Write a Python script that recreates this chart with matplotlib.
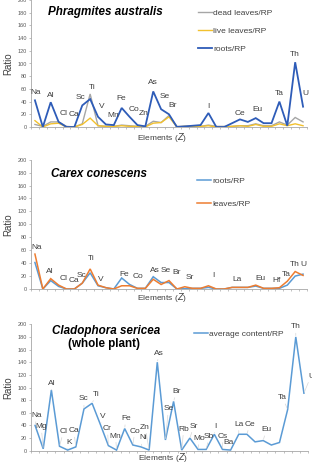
import numpy as np
import matplotlib
matplotlib.use('Agg')
import matplotlib.pyplot as plt

plt.rcParams['font.family'] = ['Liberation Sans', 'DejaVu Sans']

# ----------------------------------------
# data (ratio to reference plant, by element)
# ----------------------------------------
elements_pa = ['Na', 'Mg', 'Al', 'Cl', 'K', 'Ca', 'Sc', 'Ti', 'V', 'Cr', 'Mn', 'Fe', 'Co', 'Ni', 'Zn',
               'As', 'Se', 'Br', 'Rb', 'Sr', 'Mo', 'Sb', 'I', 'Cs', 'Ba', 'La', 'Ce', 'Sm', 'Eu',
               'Tb', 'Hf', 'Ta', 'Au', 'Th', 'U']
pa_dead = [4, 1, 8, 8, 1, 0, 5, 52, 2, 1, 1, 3, 2, 1, 1, 9, 7, 18, 1, 1, 1, 1, 3, 1, 1, 1, 2, 2, 5,
           2, 2, 8, 3, 15, 8]
pa_live = [10, 0, 5, 6, 0, 0, 4, 14, 2, 1, 1, 2, 1, 1, 0, 6, 7, 16, 0, 1, 1, 1, 2, 0, 0, 1, 2, 1, 4,
           1, 1, 5, 2, 5, 2]
pa_roots = [42, 0, 39, 8, 0, 0, 34, 44, 16, 4, 3, 30, 16, 3, 1, 56, 28, 20, 0, 1, 2, 3, 22, 0, 0, 6, 12,
            8, 14, 6, 6, 40, 2, 102, 32]

elements_cc = ['Na', 'Mg', 'Al', 'Cl', 'K', 'Ca', 'Sc', 'Ti', 'V', 'Cr', 'Mn', 'Fe', 'Co', 'Ni', 'Zn',
               'As', 'Se', 'Br', 'Rb', 'Sr', 'Mo', 'Sb', 'I', 'Cs', 'Ba', 'La', 'Ce', 'Sm', 'Eu',
               'Tb', 'Yb', 'Hf', 'Ta', 'Th', 'U']
cc_roots = [41, 0, 13, 4, 0, 0, 9, 25, 5, 2, 0, 17, 7, 1, 1, 19, 10, 10, 0, 0.5, 1, 1, 2.5, 0, 0, 2.5,
            2.5, 2.5, 4.5, 1, 1, 1, 6, 20, 23]
cc_leaves = [54, 0, 16, 6, 0, 0, 9, 31, 6, 2, 0, 5, 5, 1, 1, 15, 7, 13, 0, 3.5, 1, 1, 5, 0, 0, 2.5,
             2.5, 2.5, 6, 1, 1, 2, 12, 27, 21]

elements_cs = ['Na', 'Mg', 'Al', 'Cl', 'K', 'Ca', 'Sc', 'Ti', 'V', 'Cr', 'Mn', 'Fe', 'Co', 'Ni', 'Zn',
               'As', 'Se', 'Br', 'Rb', 'Sr', 'Mo', 'Sb', 'I', 'Cs', 'Ba', 'La', 'Ce', 'Sm', 'Eu',
               'Tb', 'Hf', 'Ta', 'Th', 'U']
cs_avg = [40, 3, 96, 7, 1, 6, 66, 75, 42, 8, 1, 35, 9, 6, 1, 140, 17, 78, 1, 20, 2, 2, 26, 2, 1, 26, 26,
          14, 16, 9, 13, 65, 180, 91]

# ----------------------------------------
# label placement (pixel offsets from the point)
# ----------------------------------------
lab_pa = {'Na': (1, 8), 'Al': (0, 7), 'Cl': (5, 8), 'Ca': (0, 13), 'Sc': (-2, 8), 'Ti': (2, 12),
          'V': (4, 10), 'Mn': (-1, 10), 'Fe': (0, 9), 'Co': (4, 7), 'Zn': (-2, 13), 'As': (0, 9),
          'Se': (4, 13), 'Br': (4, 9), 'I': (0, 7), 'Ce': (0, 6), 'Eu': (2, 9), 'Ta': (0, 8),
          'Th': (0, 8), 'U': (2, 13)}
lab_cc = {'Na': (2, 7), 'Al': (-1, 7), 'Cl': (5, 7), 'Ca': (0, 9), 'Sc': (-1, 8), 'Ti': (1, 10),
          'V': (3, 6), 'Fe': (3, 4), 'Co': (8, 8), 'As': (2, 6), 'Se': (5, 12), 'Br': (8, 8),
          'Sr': (5, 9), 'I': (5, 10), 'La': (5, 8), 'Eu': (5, 7), 'Hf': (-3, 7), 'Ta': (-1, 7),
          'Th': (0, 7), 'U': (0, 10)}
lab_cs = {'Na': (2, 10), 'Mg': (-2, 22), 'Al': (0, 7), 'Cl': (4, 15), 'K': (1, 8), 'Ca': (-2, 16),
          'Sc': (0, 10), 'Ti': (4, 9), 'V': (3, 8), 'Cr': (-1, 17), 'Mn': (-1, 14), 'Fe': (1, 10),
          'Co': (2, 14), 'Ni': (2, 9), 'Zn': (-4, 23), 'As': (2, 9), 'Se': (3, 31), 'Br': (3, 10),
          'Rb': (2, 21), 'Sr': (4, 12), 'Mo': (1, 11), 'Sb': (3, 13), 'I': (1, 8), 'Cs': (0, 13),
          'Ba': (-2, 8), 'La': (0, 10), 'Ce': (3, 10), 'Eu': (3, 11), 'Ta': (-5, 12), 'Th': (0, 10),
          'U': (7, 17)}

W, H = 312, 465
fig = plt.figure(figsize=(W/100, H/100), dpi=100)


def px(x, y):
	# pixel (from top-left) to figure fraction
	return x/W, 1 - y/H


def panel(rect, elements, series, labels, ref, title, leg_xy, leg_sp, xlab_off, leader=False):
	l, t, r, b = rect
	ax = fig.add_axes([l/W, 1-b/H, (r-l)/W, (b-t)/H])
	x = np.arange(len(elements))
	for vals, name, color, lw in series:
		ax.plot(x, vals, color=color, lw=lw, label=name, solid_joinstyle='miter')
	for el, (dx, dy) in labels.items():
		i = elements.index(el)
		arrow = None
		if leader:
			arrow = dict(arrowstyle='-', color='#d6d6d6', lw=0.5, shrinkA=0, shrinkB=1)
		ax.annotate(el, xy=(i, ref[i]), xytext=(dx, dy), textcoords='offset pixels',
		            ha='center', va='center', fontsize=6, color='#404040', arrowprops=arrow)
	ax.set_xlim(-0.5, len(elements)-0.5)
	ax.set_ylim(0, 200)
	ax.set_yticks(np.arange(0, 201, 20))
	ax.set_xticks(np.arange(len(elements)+1)-0.5)
	ax.set_xticklabels([])
	ax.tick_params(axis='both', direction='out', length=1.6, width=0.5, color='#a6a6a6',
	               labelsize=4, labelcolor='#595959', pad=1.5)
	for s in ['top', 'right']:
		ax.spines[s].set_visible(False)
	for s in ['left', 'bottom']:
		ax.spines[s].set_color('#a6a6a6')
		ax.spines[s].set_linewidth(0.6)
	ax.patch.set_alpha(0)
	ax.annotate('Ratio', xy=(0, 0.5), xycoords='axes fraction', xytext=(-23, 0),
	            textcoords='offset pixels', rotation=90, ha='center', va='center',
	            fontsize=7, color='#404040')
	ax.annotate('Elements ($\\it{Z}$)', xy=(0.475, 0), xycoords='axes fraction', xytext=(0, xlab_off),
	            textcoords='offset pixels', ha='center', va='center', fontsize=6, color='#404040')
	for txt, tx, ty, style in title:
		fig.text(*px(tx, ty), txt, fontsize=8.4, fontweight='bold', fontstyle=style,
		         ha='left', va='center', color='black')
	ax.legend(loc='upper left', bbox_to_anchor=px(*leg_xy), bbox_transform=fig.transFigure,
	          frameon=False, fontsize=6, handlelength=1.7, handletextpad=0.1, borderpad=0,
	          borderaxespad=0, labelspacing=leg_sp, labelcolor='#404040')
	return ax


# ----------------------------------------
# Phragmites australis
# ----------------------------------------
panel((31, 0, 307, 127), elements_pa,
      [(pa_dead, 'dead leaves/RP', '#a6a6a6', 1.0),
       (pa_live, 'live leaves/RP', '#f2c12e', 1.0),
       (pa_roots, 'roots/RP', '#2e5cb8', 1.3)],
      lab_pa, pa_roots, [('Phragmites australis', 48, 12, 'italic')], (198, 9.5), 1.2, -10)

# ----------------------------------------
# Carex conescens
# ----------------------------------------
ref_cc = [max(a, b) for a, b in zip(cc_roots, cc_leaves)]
panel((31, 159.7, 307, 289), elements_cc,
      [(cc_roots, 'roots/RP', '#5b9bd5', 1.1),
       (cc_leaves, 'leaves/RP', '#ed7d31', 1.1)],
      lab_cc, ref_cc, [('Carex conescens', 51, 174, 'italic')], (197, 177.5), 1.75, -8)

# ----------------------------------------
# Cladophora sericea
# ----------------------------------------
panel((31, 324.3, 308, 450.7), elements_cs,
      [(cs_avg, 'average content/RP', '#5b9bd5', 1.1)],
      lab_cs, cs_avg, [('Cladophora sericea', 52, 331, 'italic'), ('(whole plant)', 68, 343.5, 'normal')],
      (194, 330), 1.2, -7, leader=True)

plt.savefig('out.png', dpi=100)
